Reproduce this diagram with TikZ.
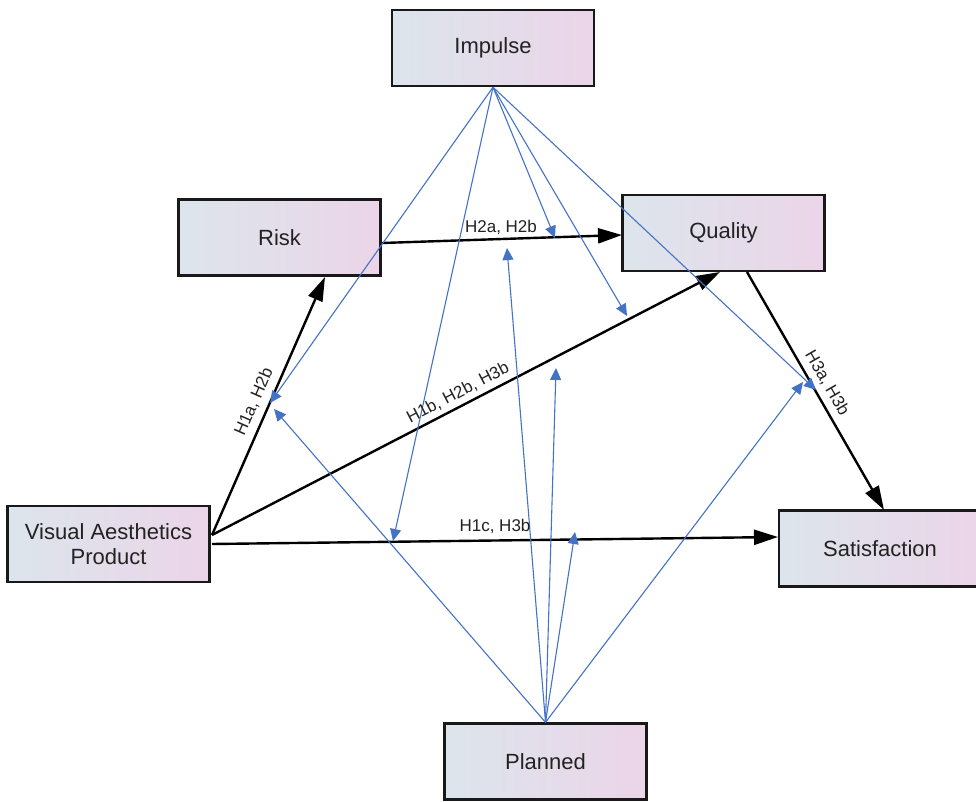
\documentclass[tikz,border=0pt]{standalone}
\usepackage{fontspec}
\setmainfont{Liberation Sans}
\usetikzlibrary{arrows.meta}
\definecolor{bl}{RGB}{68,114,196}
\definecolor{txt}{RGB}{34,34,34}
\definecolor{bord}{RGB}{25,25,25}
\definecolor{gl}{RGB}{220,229,236}
\definecolor{gr}{RGB}{235,213,232}
\begin{document}
\begin{tikzpicture}[x=1pt,y=-1pt,
  box/.style={draw=bord, line width=2.4pt, left color=gl, right color=gr,
    minimum width=202pt, minimum height=76pt, inner sep=0pt,
    font=\fontsize{22}{25}\selectfont, text=txt, align=center},
  blk/.style={line width=2.4pt, black, -{Triangle[length=24pt,width=15pt]}},
  blu/.style={line width=1.1pt, bl, -{Triangle[length=12pt,width=11pt]}},
  lab/.style={font=\fontsize{17}{20}\selectfont, text=txt, inner sep=0pt}]
\useasboundingbox (0,0) rectangle (976,802);
\fill[white] (0,0) rectangle (976,802);

% boxes
\node[box] (imp) at (493,48) {Impulse};
\node[box] (risk) at (279.5,237.5) {Risk};
\node[box] (qual) at (723.5,233) {Quality};
\node[box] (vap) at (108.5,544) {Visual Aesthetics\\Product};
\node[box] (sat) at (880,548.5) {Satisfaction};
\node[box] (pl) at (545.5,761.5) {Planned};

% attachment points
\coordinate (vapA) at (212,535);
\coordinate (vapB) at (212,544);
\coordinate (riskB) at (325,277);
\coordinate (riskR) at (382,243);
\coordinate (qualL) at (622,235);
\coordinate (qualB) at (720,272);
\coordinate (qualC) at (747,272);
\coordinate (satT) at (884,510);
\coordinate (satL) at (778,537);

% black connectors
\draw[blk] (vapA) -- (riskB);
\draw[blk] (vapA) -- (qualB);
\draw[blk] (vapB) -- (satL);
\draw[blk] (riskR) -- (qualL);
\draw[blk] (qualC) -- (satT);

% targets of blue moderating arrows
\coordinate (i1) at (270,403);
\coordinate (i2) at (393,541);
\coordinate (i3) at (555,238);
\coordinate (i4) at (627,316);
\coordinate (i5) at (816,390);
\coordinate (p1) at (274,409);
\coordinate (p2) at (507,248);
\coordinate (p3) at (556,368);
\coordinate (p4) at (575,532);
\coordinate (p5) at (803,382);

\foreach \t in {i1,i2,i3,i4,i5} \draw[blu] (imp.south) -- (\t);
\foreach \t in {p1,p2,p3,p4,p5} \draw[blu] (pl.north) -- (\t);

% labels
\node[lab] (l1) at (501,227) {H2a, H2b};
\node[lab] (l2) at (495,526) {H1c, H3b};
\node[lab, rotate=27.4] (l3) at (458,393) {H1b, H2b, H3b};
\node[lab, rotate=66.3] (l4) at (254,402) {H1a, H2b};
\node[lab, rotate=-60] (l5) at (827,383) {H3a, H3b};
\end{tikzpicture}
\end{document}
